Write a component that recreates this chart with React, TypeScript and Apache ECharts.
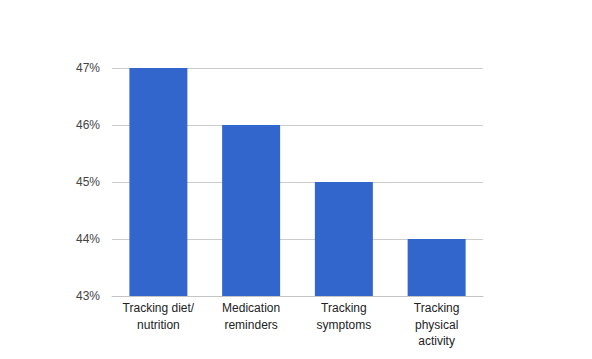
import React, { useEffect, useRef } from "react";
import * as echarts from "echarts";

const categories = [
  "Tracking diet/\nnutrition",
  "Medication\nreminders",
  "Tracking\nsymptoms",
  "Tracking\nphysical\nactivity",
];
const values = [47, 46, 45, 44];
const yMin = 43;
const yMax = 47;
const yInterval = 1;

export default function App() {
  const ref = useRef<HTMLDivElement>(null);
  useEffect(() => {
    if (!ref.current) return;
    const chart = echarts.init(ref.current, undefined, { renderer: "svg" });
    chart.setOption({
      animation: false,
      backgroundColor: "#ffffff",
      grid: { left: 112, right: 109, top: 68, bottom: 63, containLabel: false },
      xAxis: {
        type: "category",
        data: categories,
        axisTick: { show: false },
        axisLine: { show: true, lineStyle: { color: "#c4c4c4", width: 1 } },
        axisLabel: {
          color: "#222222",
          fontFamily: "Liberation Sans, Arial, sans-serif",
          fontSize: 12,
          lineHeight: 16.5,
          margin: 4,
          interval: 0,
        },
      },
      yAxis: {
        type: "value",
        min: yMin,
        max: yMax,
        interval: yInterval,
        axisLine: { show: false },
        axisTick: { show: false },
        splitLine: { lineStyle: { color: "#cccccc", width: 1 } },
        axisLabel: {
          formatter: "{value}%",
          color: "#444444",
          fontFamily: "Liberation Sans, Arial, sans-serif",
          fontSize: 12,
          margin: 12,
        },
      },
      series: [
        {
          type: "bar",
          data: values,
          barWidth: 58,
          itemStyle: { color: "#3366cc" },
        },
      ],
    });
    return () => chart.dispose();
  }, []);
  return (
    <div
      ref={ref}
      style={{ position: "fixed", left: 0, top: 0, width: 592, height: 359 }}
    />
  );
}
